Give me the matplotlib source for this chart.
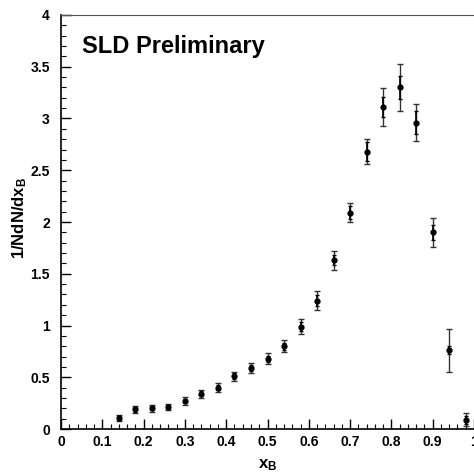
import matplotlib
matplotlib.use("Agg")
import matplotlib.pyplot as plt
from matplotlib.ticker import MultipleLocator

plt.rcParams['font.family'] = ['Liberation Sans', 'DejaVu Sans']
plt.rcParams['mathtext.fontset'] = 'custom'
plt.rcParams['mathtext.rm'] = 'Liberation Sans'
plt.rcParams['mathtext.bf'] = 'Liberation Sans:bold'

# B hadron energy fraction spectrum
xb = [0.14, 0.18, 0.22, 0.26, 0.30, 0.34, 0.38, 0.42, 0.46, 0.50, 0.54,
      0.58, 0.62, 0.66, 0.70, 0.74, 0.78, 0.82, 0.86, 0.90, 0.94, 0.98]
dndx = [0.11, 0.19, 0.20, 0.21, 0.27, 0.34, 0.40, 0.51, 0.59, 0.68, 0.80,
        0.99, 1.24, 1.63, 2.09, 2.68, 3.11, 3.30, 2.96, 1.90, 0.76, 0.09]
err_stat = [0.02, 0.025, 0.02, 0.02, 0.02, 0.025, 0.025, 0.03, 0.03, 0.03, 0.035,
            0.045, 0.056, 0.05, 0.06, 0.09, 0.10, 0.11, 0.11, 0.07, 0.04, 0.04]
err_tot = [0.03, 0.035, 0.035, 0.03, 0.035, 0.04, 0.04, 0.045, 0.045, 0.05, 0.056,
           0.076, 0.09, 0.09, 0.09, 0.12, 0.18, 0.23, 0.18, 0.14, 0.21, 0.06]

fig = plt.figure(figsize=(4.74, 4.73), dpi=100)
ax = fig.add_axes([61/474, 44/473, 413/474, 414/473])

ax.errorbar(xb, dndx, yerr=err_tot, fmt='none', ecolor='#333333',
            elinewidth=1.0, capsize=2, capthick=1.0)
ax.errorbar(xb, dndx, yerr=err_stat, fmt='o', color='black', ms=3.5,
            ecolor='black', elinewidth=1.2, capsize=1.5, capthick=1.0)

ax.set_xlim(0, 1)
ax.set_ylim(0, 4)
ax.xaxis.set_major_locator(MultipleLocator(0.1))
ax.xaxis.set_minor_locator(MultipleLocator(0.02))
ax.yaxis.set_major_locator(MultipleLocator(0.5))
ax.yaxis.set_minor_locator(MultipleLocator(0.1))
ax.set_xticks([0, 0.1, 0.2, 0.3, 0.4, 0.5, 0.6, 0.7, 0.8, 0.9, 1.0])
ax.set_xticklabels(['0', '0.1', '0.2', '0.3', '0.4', '0.5', '0.6', '0.7', '0.8', '0.9', '1'])
ax.set_yticks([0, 0.5, 1, 1.5, 2, 2.5, 3, 3.5, 4])
ax.set_yticklabels(['0', '0.5', '1', '1.5', '2', '2.5', '3', '3.5', '4'])

ax.tick_params(which='both', direction='in', top=False, right=False)
ax.tick_params(which='major', length=7, width=1)
ax.tick_params(which='minor', length=3.5, width=0.8)
ax.tick_params(axis='y', pad=8, labelsize=10)
ax.tick_params(axis='x', pad=4, labelsize=10)
for lab in ax.get_xticklabels() + ax.get_yticklabels():
    lab.set_fontweight('bold')

ax.spines['right'].set_visible(False)
ax.spines['top'].set_color('#555555')
ax.spines['left'].set_linewidth(1.2)
ax.spines['bottom'].set_linewidth(1.2)

ax.set_xlabel(r'$\mathbf{x_B}$', fontsize=12)
ax.xaxis.set_label_coords(0.5, -0.068)
ax.set_ylabel(r'$\mathbf{1/NdN/dx_B}$', fontsize=12)
ax.yaxis.set_label_coords(-0.078, 0.51)

ax.text(0.051, 0.923, 'SLD Preliminary', transform=ax.transAxes,
        fontsize=17, fontweight='bold', va='center', ha='left')

fig.savefig('out.png', dpi=100)
